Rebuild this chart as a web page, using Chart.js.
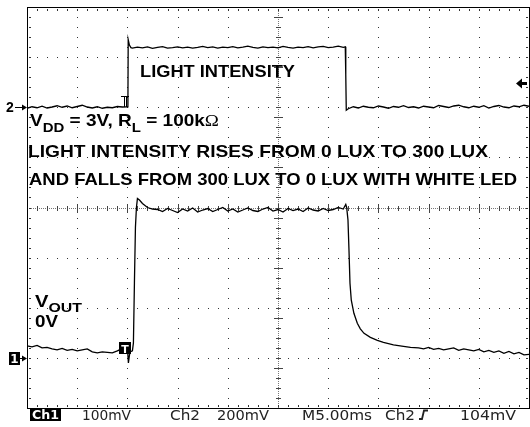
<!DOCTYPE html>
<html>
<head>
<meta charset="utf-8">
<script src="https://cdn.jsdelivr.net/npm/chart.js@4.4.1/dist/chart.umd.min.js"></script>
<style>
  html, body { margin: 0; padding: 0; background: #fff; }
  canvas { display: block; }
</style>
</head>
<body>
<canvas id="scope" width="530" height="427"></canvas>
<script>
// time in ms, M5.00ms per division, 10 divisions
const timeRange = [0, 50];

// Ch2: light intensity sensor, mV (200mV/div)
const ch2Time = [
  0, 0.5, 1, 1.5, 2, 2.5, 3, 3.5, 4, 4.5, 5, 5.5, 6, 6.5, 7, 7.5, 8, 8.5, 9, 9.5, 10,
  10.05, 10.08, 10.2, 10.35,
  10.5, 11, 11.5, 12, 12.5, 13, 13.5, 14, 14.5, 15, 15.5, 16, 16.5, 17, 17.5, 18, 18.5, 19, 19.5, 20,
  20.5, 21, 21.5, 22, 22.5, 23, 23.5, 24, 24.5, 25, 25.5, 26, 26.5, 27, 27.5, 28, 28.5, 29, 29.5, 30,
  30.5, 31, 31.5,
  31.7, 31.75, 31.8, 32,
  32.5, 33, 33.5, 34, 34.5, 35, 35.5, 36, 36.5, 37, 37.5, 38, 38.5, 39, 39.5, 40, 40.5, 41, 41.5, 42,
  42.5, 43, 43.5, 44, 44.5, 45, 45.5, 46, 46.5, 47, 47.5, 48, 48.5, 49, 49.5, 50
];
const ch2Values = [
  -4, 2, -2, 4, -3, 1, 6, 0, 5, -2, 3, 8, 1, -3, 2, -4, 0, -2, 3, 1, 2,
  4, 270, 248, 238,
  236, 240, 237, 241, 235, 239, 242, 236, 238, 241, 237, 240, 236, 239, 243, 238, 241, 236, 240, 238,
  242, 237, 240, 244, 239, 236, 241, 238, 240, 237, 243, 239, 236, 240, 238, 242, 237, 241, 243, 238,
  240, 244, 239,
  241, 130, -12, -6,
  2, -3, 4, 0, -2, 5, 1, -4, 3, 0, 6, -1, 2, -3, 4, 1, -2, 7, 3, -1,
  5, 8, 2, -2, 4, 0, 6, -3, 3, 7, 1, -2, 5, 2, 8, 4
];

// Ch1: VOUT, mV (100mV/div)
const ch1Time = [
  0, 0.5, 1, 1.5, 2, 2.5, 3, 3.5, 4, 4.5, 5, 5.5, 6, 6.5, 7, 7.5, 8, 8.5, 9, 9.5, 10,
  10.1, 10.25, 10.5, 10.6, 10.7, 10.8, 10.9, 11, 11.2, 11.5, 12, 12.5,
  13, 13.5, 14, 14.5, 15, 15.5, 16, 16.5, 17, 17.5, 18, 18.5, 19, 19.5, 20, 20.5, 21, 21.5, 22, 22.5,
  23, 23.5, 24, 24.5, 25, 25.5, 26, 26.5, 27, 27.5, 28, 28.5, 29, 29.5, 30, 30.5, 31, 31.5,
  31.75, 31.84, 31.97, 32.07, 32.17, 32.3, 32.56, 32.9, 33.2, 33.57, 34.2, 34.9, 35.5, 36.5, 37.5, 38.2,
  39, 39.5, 40, 40.5, 41, 41.5, 42, 42.5, 43, 43.5, 44, 44.5, 45, 45.5, 46, 46.5, 47, 47.5, 48, 48.5,
  49, 49.5, 50
];
const ch1Values = [
  24, 22, 25, 20, 21, 18, 16, 19, 15, 17, 14, 16, 18, 12, 10, 12, 11, 10, 14, 19, 22,
  -10, 12, 14, 30, 150, 260, 300, 318, 315, 308, 300, 297,
  296, 292, 298, 294, 290, 297, 293, 299, 291, 295, 298, 292, 296, 300, 293, 297, 291, 295, 299, 294,
  292, 297, 300, 293, 296, 291, 298, 294, 297, 292, 299, 295, 293, 298, 294, 296, 300, 297,
  306, 300, 275, 215, 149, 115, 89, 69, 58, 49, 41, 35, 31, 26, 23, 21,
  20, 18, 21, 17, 19, 16, 18, 20, 15, 18, 16, 14, 17, 12, 15, 11, 14, 9, 13, 8,
  11, 6, 7
];

const ch1Range = [-100, 700];    // 0V marker one division above bottom
const ch2Range = [-1200, 400];   // 0V marker two divisions below top
const triggerTime = 10;
const triggerLevel = 104;

const toPoints = (ts, vs) => ts.map((t, i) => ({ x: t, y: vs[i] }));

function drawRuns(ctx, runs, x, base, width) {
  let natural = 0;
  runs.forEach(r => { ctx.font = r.font; natural += ctx.measureText(r.t).width; });
  const sx = width ? width / natural : 1;
  ctx.save();
  ctx.translate(x, base);
  ctx.scale(sx, 1);
  let cx = 0;
  runs.forEach(r => {
    ctx.font = r.font;
    ctx.fillText(r.t, cx, r.dy || 0);
    cx += ctx.measureText(r.t).width;
  });
  ctx.restore();
}

const graticule = {
  id: 'graticule',
  beforeDatasetsDraw(chart) {
    const { ctx, chartArea: a, scales: { x, y } } = chart;
    const L = a.left, R = a.right, T = a.top, B = a.bottom;
    ctx.save();
    ctx.fillStyle = '#333';
    const minorX = [], minorY = [];
    for (let t = 1; t < 50; t++) minorX.push(Math.round(x.getPixelForValue(t)));
    for (let v = -80; v < 700; v += 20) minorY.push(Math.round(y.getPixelForValue(v)));
    // dotted major lines
    for (let t = 5; t < 50; t += 5) {
      if (t === 25) continue;
      const px = Math.round(x.getPixelForValue(t));
      minorY.forEach(py => ctx.fillRect(px, py, 1, 1));
    }
    for (let v = 0; v < 700; v += 100) {
      if (v === 300) continue;
      const py = Math.round(y.getPixelForValue(v));
      minorX.forEach(px => ctx.fillRect(px, py, 1, 1));
    }
    // centre cross with ticks
    const cx = Math.round(x.getPixelForValue(25));
    const cy = Math.round(y.getPixelForValue(300));
    ctx.fillStyle = '#777';
    for (let py = T + 2; py < B; py += 2) ctx.fillRect(cx, py, 1, 1);
    for (let px = L + 2; px < R; px += 2) ctx.fillRect(px, cy, 1, 1);
    ctx.fillStyle = '#444';
    minorY.forEach((py, i) => {
      const major = (i + 1) % 5 === 4;
      ctx.fillRect(cx - (major ? 4 : 2), py, major ? 9 : 5, 1);
    });
    minorX.forEach((px, i) => {
      const major = (i + 1) % 5 === 0;
      ctx.fillRect(px, cy - (major ? 4 : 2), 1, major ? 9 : 5);
    });
    // border ticks
    ctx.fillStyle = '#333';
    minorX.forEach(px => {
      ctx.fillRect(px, T + 2, 1, 2);
      ctx.fillRect(px, B - 3, 1, 2);
    });
    minorY.forEach(py => {
      ctx.fillRect(L + 2, py, 2, 1);
      ctx.fillRect(R - 3, py, 2, 1);
    });
    // frame
    ctx.fillStyle = '#000';
    ctx.fillRect(L, T, R - L + 1, 1);
    ctx.fillRect(L, B, R - L + 1, 1);
    ctx.fillRect(L, T, 1, B - T + 1);
    ctx.fillRect(R, T, 1, B - T + 1);
    ctx.restore();
  }
};

const annotations = {
  id: 'annotations',
  afterDatasetsDraw(chart) {
    const { ctx, scales: { x, y, y2 } } = chart;
    const big = 'bold 16.5px "Liberation Sans", Arial, sans-serif';
    const sub = 'bold 13px "Liberation Sans", Arial, sans-serif';
    ctx.save();
    ctx.fillStyle = '#000';
    ctx.textBaseline = 'alphabetic';
    drawRuns(ctx, [{ t: 'LIGHT INTENSITY', font: big }], 140, 77, 155);
    drawRuns(ctx, [
      { t: 'V', font: big }, { t: 'DD', font: sub, dy: 6 },
      { t: ' = 3V, R', font: big }, { t: 'L', font: sub, dy: 6 },
      { t: ' = 100k', font: big }, { t: 'Ω', font: '16.5px "Liberation Serif", serif' }
    ], 30, 126, 189);
    drawRuns(ctx, [{ t: 'LIGHT INTENSITY RISES FROM 0 LUX TO 300 LUX', font: big }], 28, 157, 460);
    drawRuns(ctx, [{ t: 'AND FALLS FROM 300 LUX TO 0 LUX WITH WHITE LED', font: big }], 29, 185, 488);
    drawRuns(ctx, [{ t: 'V', font: big }, { t: 'OUT', font: sub, dy: 5 }], 35, 307, 47);
    drawRuns(ctx, [{ t: '0V', font: big }], 35, 327, 23);

    // channel ground markers
    const g2 = Math.round(y2.getPixelForValue(0));
    const g1 = Math.round(y.getPixelForValue(0));
    ctx.font = 'bold 14px "Liberation Sans", Arial, sans-serif';
    ctx.fillText('2', 6, g2 + 5);
    ctx.fillRect(15, g2, 8, 1);
    ctx.beginPath();
    ctx.moveTo(27, g2 + 0.5); ctx.lineTo(22, g2 - 2.5); ctx.lineTo(22, g2 + 3.5); ctx.closePath();
    ctx.fill();
    ctx.fillRect(9, g1 - 6, 11, 13);
    ctx.fillRect(20, g1, 3, 1);
    ctx.beginPath();
    ctx.moveTo(27, g1 + 0.5); ctx.lineTo(22, g1 - 2.5); ctx.lineTo(22, g1 + 3.5); ctx.closePath();
    ctx.fill();
    ctx.fillStyle = '#fff';
    ctx.font = 'bold 12px "DejaVu Sans", sans-serif';
    ctx.textAlign = 'center';
    ctx.fillText('1', 14.5, g1 + 5);

    // trigger markers
    const tx = Math.round(x.getPixelForValue(triggerTime));
    ctx.fillStyle = '#000';
    ctx.fillRect(tx - 8, g1 - 16, 12, 12);
    ctx.fillStyle = '#fff';
    ctx.font = 'bold 11px "DejaVu Sans", sans-serif';
    ctx.fillText('T', tx - 2, g1 - 5.5);
    ctx.strokeStyle = '#000';
    ctx.lineWidth = 1;
    ctx.beginPath();
    ctx.moveTo(tx - 6, g2 - 10.5); ctx.lineTo(tx + 2, g2 - 10.5);
    ctx.moveTo(tx - 2.5, g2 - 10); ctx.lineTo(tx - 2.5, g2);
    ctx.moveTo(tx - 0.5, g2 - 10); ctx.lineTo(tx - 0.5, g2);
    ctx.stroke();
    const tl = Math.round(y2.getPixelForValue(triggerLevel)) + 2;
    ctx.fillStyle = '#000';
    ctx.beginPath();
    ctx.moveTo(516, tl + 0.5); ctx.lineTo(522, tl - 4.5); ctx.lineTo(522, tl + 5.5); ctx.closePath();
    ctx.fill();
    ctx.fillRect(522, tl - 1, 5, 3);

    // readout line
    ctx.textAlign = 'left';
    ctx.fillStyle = '#000';
    ctx.fillRect(30, 408, 31, 13);
    ctx.fillStyle = '#fff';
    drawRuns(ctx, [{ t: 'Ch1', font: 'bold 13px "DejaVu Sans", sans-serif' }], 32, 419, 27);
    ctx.fillStyle = '#222';
    const ro = '14px "DejaVu Sans", sans-serif';
    drawRuns(ctx, [{ t: '100mV', font: ro }], 82, 420, 49);
    drawRuns(ctx, [{ t: 'Ch2', font: ro }], 170, 420, 30);
    drawRuns(ctx, [{ t: '200mV', font: ro }], 217, 420, 52);
    drawRuns(ctx, [{ t: 'M5.00ms', font: ro }], 302, 420, 70);
    drawRuns(ctx, [{ t: 'Ch2', font: ro }], 385, 420, 30);
    drawRuns(ctx, [{ t: '104mV', font: ro }], 460, 420, 56);
    ctx.strokeStyle = '#222';
    ctx.lineWidth = 1.8;
    ctx.beginPath();
    ctx.moveTo(419, 419); ctx.lineTo(422, 419); ctx.lineTo(424, 410.5); ctx.lineTo(428, 410.5);
    ctx.stroke();
    ctx.restore();
  }
};

const traceStyle = { borderColor: '#000', borderWidth: 1.3, pointRadius: 0, tension: 0, fill: false };

new Chart(document.getElementById('scope').getContext('2d'), {
  type: 'line',
  data: {
    datasets: [
      { label: 'Ch1', data: toPoints(ch1Time, ch1Values), yAxisID: 'y', ...traceStyle },
      { label: 'Ch2', data: toPoints(ch2Time, ch2Values), yAxisID: 'y2', ...traceStyle }
    ]
  },
  options: {
    responsive: false,
    animation: false,
    events: [],
    layout: { padding: { left: 27, top: 7, right: 1, bottom: 19 } },
    plugins: { legend: { display: false }, tooltip: { enabled: false } },
    scales: {
      x: { type: 'linear', min: timeRange[0], max: timeRange[1], display: false },
      y: { min: ch1Range[0], max: ch1Range[1], display: false },
      y2: { min: ch2Range[0], max: ch2Range[1], display: false }
    }
  },
  plugins: [graticule, annotations]
});
</script>
</body>
</html>
